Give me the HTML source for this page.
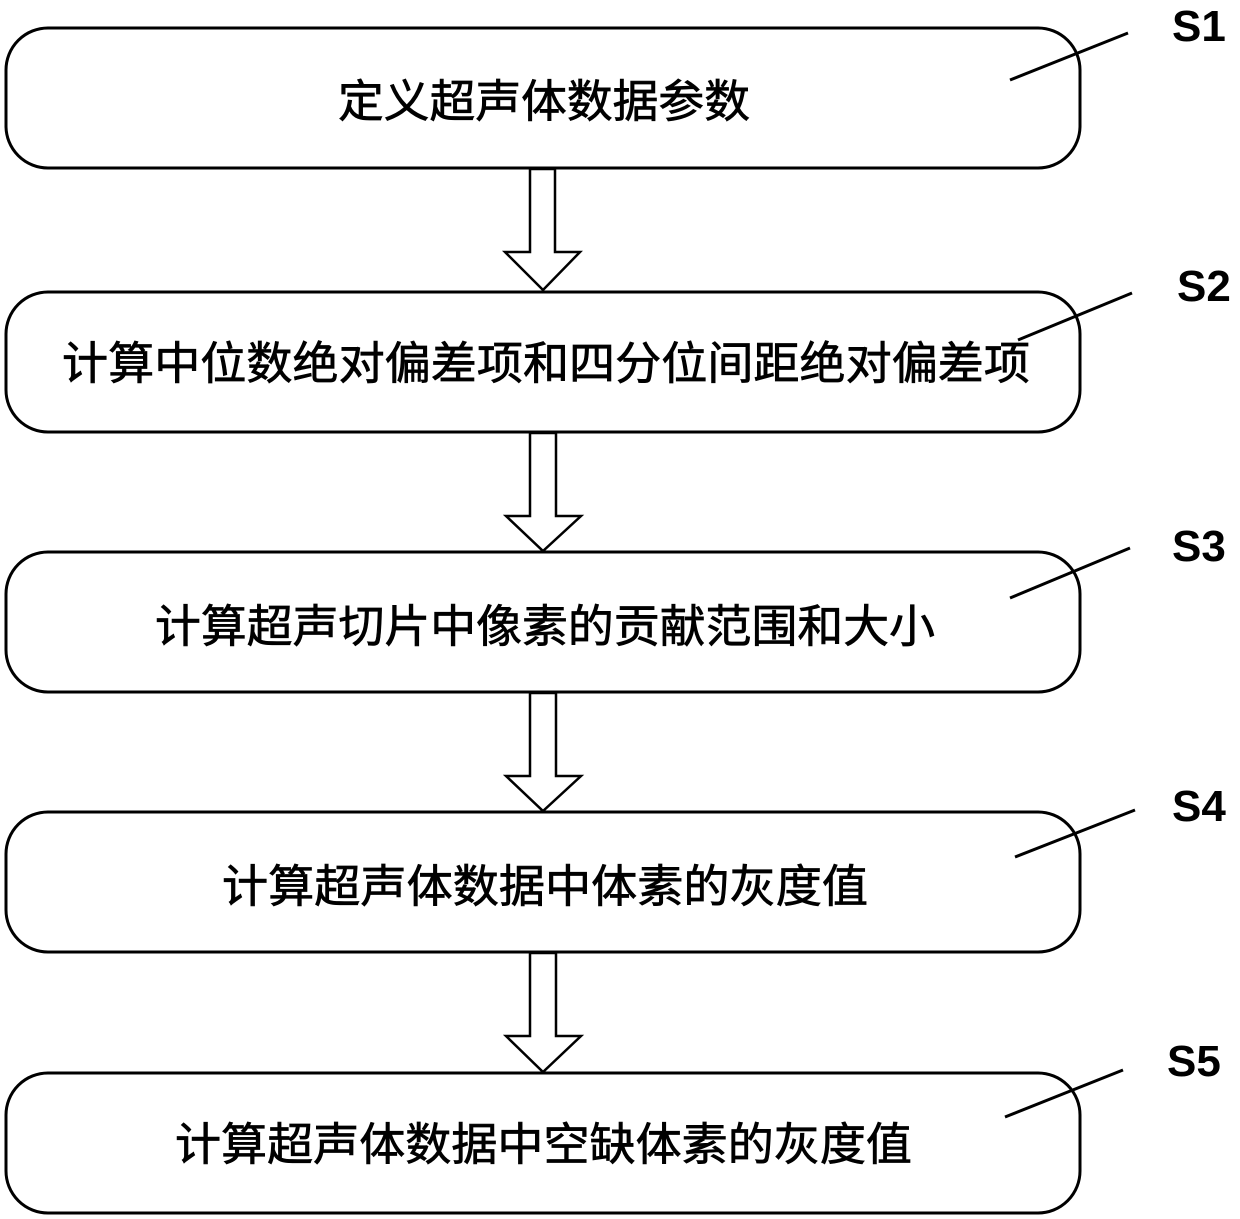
<!DOCTYPE html>
<html><head><meta charset="utf-8"><style>
html,body{margin:0;padding:0;background:#fff;}
svg{display:block;}
.t{font-family:"Liberation Sans","Noto Sans CJK SC",sans-serif;font-size:45px;fill:#000;stroke:#000;stroke-width:0.7;}
.s{font-family:"Liberation Sans",sans-serif;font-size:44px;font-weight:bold;fill:#000;}
</style></head><body>
<svg width="1240" height="1219" viewBox="0 0 1240 1219" xmlns="http://www.w3.org/2000/svg">
<g fill="#fff" stroke="#000" stroke-width="3">
<rect x="6" y="28" width="1074" height="140" rx="42"/>
<rect x="6" y="292" width="1074" height="140" rx="42"/>
<rect x="6" y="552" width="1074" height="140" rx="42"/>
<rect x="6" y="812" width="1074" height="140" rx="42"/>
<rect x="6" y="1073" width="1074" height="140" rx="42"/>
</g>
<g fill="#fff" stroke="#000" stroke-width="2.5" stroke-linejoin="miter">
<polygon points="530,169 555,169 555,252 580,252 543,290 505,252 530,252"/>
<polygon points="530,433 556,433 556,516 581,516 543,551 506,516 530,516"/>
<polygon points="530,693 556,693 556,776 581,776 543,811 506,776 530,776"/>
<polygon points="530,953 556,953 556,1036 581,1036 543,1072 506,1036 530,1036"/>
</g>
<g stroke="#000" stroke-width="3">
<line x1="1010" y1="80" x2="1128" y2="33"/>
<line x1="1018" y1="340" x2="1132" y2="293"/>
<line x1="1010" y1="598" x2="1130" y2="548"/>
<line x1="1015" y1="857" x2="1135" y2="810"/>
<line x1="1005" y1="1117" x2="1123" y2="1070"/>
</g>
<text class="s" x="1172" y="41">S1</text>
<text class="s" x="1177" y="301">S2</text>
<text class="s" x="1172" y="561">S3</text>
<text class="s" x="1172" y="821">S4</text>
<text class="s" x="1167" y="1076">S5</text>
<text class="t" x="338" y="117" textLength="412" lengthAdjust="spacingAndGlyphs">定义超声体数据参数</text>
<text class="t" x="62" y="379" textLength="968" lengthAdjust="spacingAndGlyphs">计算中位数绝对偏差项和四分位间距绝对偏差项</text>
<text class="t" x="155" y="642" textLength="780" lengthAdjust="spacingAndGlyphs">计算超声切片中像素的贡献范围和大小</text>
<text class="t" x="222" y="902" textLength="646" lengthAdjust="spacingAndGlyphs">计算超声体数据中体素的灰度值</text>
<text class="t" x="175" y="1160" textLength="737" lengthAdjust="spacingAndGlyphs">计算超声体数据中空缺体素的灰度值</text>
</svg>
</body></html>
